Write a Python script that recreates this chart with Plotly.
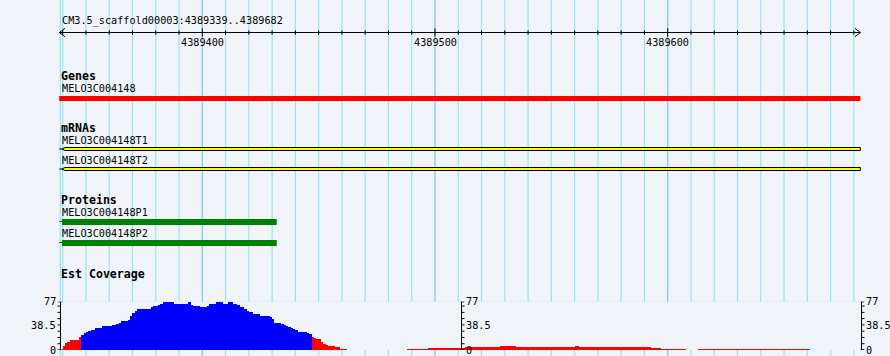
import plotly.graph_objects as go

# ---------------- data ----------------
seq_name = "CM3.5_scaffold00003"
view_start = 4389339
view_end = 4389682
ruler_labels = [4389400, 4389500, 4389600]

gene_names = ["MELO3C004148"]
gene_starts = [4389339]
gene_ends = [4389682]

mrna_names = ["MELO3C004148T1", "MELO3C004148T2"]
mrna_starts = [4389339, 4389339]
mrna_block_starts = [4389340, 4389340]
mrna_ends = [4389682, 4389682]

protein_names = ["MELO3C004148P1", "MELO3C004148P2"]
protein_starts = [4389339, 4389339]
protein_block_starts = [4389340, 4389340]
protein_ends = [4389431, 4389431]

# EST coverage as runs: offset (bp from view_start) where a run begins, and its depth
cov_offsets = [1, 2, 3, 4, 8, 9, 10, 11, 12, 13, 15, 18, 22, 24, 25, 26, 29, 30, 31, 32,
               33, 37, 39, 40, 42, 43, 44, 45, 46, 47, 49, 55, 56, 57, 60, 63, 64, 65, 67, 70,
               71, 72, 74, 76, 77, 79, 80, 81, 83, 86, 87, 90, 91, 92, 95, 96, 97, 98, 99, 100,
               101, 102, 106, 107, 108, 109, 110, 112, 113, 114, 115, 118, 120, 123,
               149, 158, 174, 189, 196, 221, 223, 254, 258, 269, 274, 322]
cov_values = [6, 11, 13, 16, 21, 24, 27, 28, 30, 32, 35, 38, 40, 41, 43, 46, 48, 55, 59, 62,
              65, 66, 68, 70, 71, 73, 77, 76, 77, 76, 73, 76, 71, 70, 68, 70, 73, 74, 76, 74,
              73, 76, 73, 71, 68, 65, 62, 60, 57, 55, 54, 52, 49, 43, 41, 40, 38, 37, 35, 33,
              32, 29, 27, 26, 21, 19, 18, 13, 10, 8, 7, 5, 2, 0,
              2, 3, 4, 6, 4, 6, 4, 3, 2, 0, 2, 0]
cov_max = 77
cov_tick_labels = ["0", "38.5", "77"]
cov_tick_values = [0, 38.5, 77]
cov_grid_values = [0, 10, 20, 30, 40, 50, 60, 70, 77]
cov_pivot = 23

# ---------------- layout constants ----------------
W, H = 890, 356
PX_PER_BP = 2.327
LEFT_PX = 60.35            # pixel of view_start
x_lo = view_start - LEFT_PX / PX_PER_BP
x_hi = x_lo + W / PX_PER_BP

BG = "#f0f4f9"
GRID_MINOR = "#98e4ec"
GRID_MAJOR = "#7cc4e4"
MONO = "DejaVu Sans Mono"

shapes = []
annotations = []

def text(x_px, y, s, bold=False, anchor="left", yref="y", size=None):
    annotations.append(dict(
        x=x_px / W, xref="paper", y=y, yref=yref, text=s, showarrow=False,
        xanchor=anchor, yanchor="middle", borderpad=0,
        font=dict(family=MONO, size=size or (11.6 if bold else 10.2), color="black",
                  weight="bold" if bold else "normal")))

# ---- vertical grid ----
first = ((view_start + 9) // 10) * 10
grid_bp = [view_start] + list(range(first, view_end + 1, 10))
for g in grid_bp:
    major = (g % 100 == 0)
    shapes.append(dict(type="line", xref="x", yref="paper", x0=g, x1=g, y0=0, y1=1,
                       line=dict(color=GRID_MAJOR if major else GRID_MINOR, width=1.2),
                       layer="below"))

# ---- ruler ----
RY = 32.5
shapes.append(dict(type="line", xref="x", yref="y", x0=view_start - 0.4, x1=view_end + 0.8,
                   y0=RY, y1=RY, line=dict(color="black", width=1)))
ah = 5.5 / PX_PER_BP
for tip, d in [(view_start - 0.4, 1), (view_end + 0.8, -1)]:
    shapes.append(dict(type="path", xref="x", yref="y",
                       path=f"M {tip + d*ah},{RY-4.2} L {tip},{RY} L {tip + d*ah},{RY+4.2}",
                       line=dict(color="black", width=1)))
for g in range(first, view_end + 1, 10):
    major = (g % 100 == 0)
    h = 4.2 if major else 2.2
    shapes.append(dict(type="line", xref="x", yref="y", x0=g, x1=g, y0=RY - h, y1=RY + h,
                       line=dict(color="black", width=1)))
text(LEFT_PX + 0.5, 21.3, f"{seq_name}:{view_start}..{view_end}")
for r in ruler_labels:
    annotations.append(dict(x=r, xref="x", y=42.2, yref="y", text=str(r), showarrow=False,
                            xanchor="center", yanchor="middle", borderpad=0,
                            font=dict(family=MONO, size=10.2, color="black")))

# ---- Genes ----
text(59.5, 76, "Genes", bold=True)
gene_rows = [(88.2, 96, 101)]
for name, s, e, (ly, y0, y1) in zip(gene_names, gene_starts, gene_ends, gene_rows):
    text(LEFT_PX + 0.5, ly, name)
    shapes.append(dict(type="rect", xref="x", yref="y", x0=s - 0.5, x1=e + 0.8, y0=y0, y1=y1,
                       fillcolor="#ff0000", line=dict(width=0)))

# ---- mRNAs ----
text(59.5, 128.3, "mRNAs", bold=True)
mrna_rows = [(140.2, 147.5, 150.5), (160.2, 167.5, 170.5)]
tipw = 3 / PX_PER_BP
for name, s, bs, e, (ly, y0, y1) in zip(mrna_names, mrna_starts, mrna_block_starts, mrna_ends, mrna_rows):
    text(LEFT_PX + 0.5, ly, name)
    ym = (y0 + y1) / 2
    shapes.append(dict(type="line", xref="x", yref="y", x0=s - 0.5, x1=bs, y0=ym, y1=ym,
                       line=dict(color="black", width=1)))
    xt = bs - 0.3
    shapes.append(dict(type="path", xref="x", yref="y",
                       path=(f"M {xt},{ym} L {xt + tipw},{y0} L {e + 0.8},{y0} "
                             f"L {e + 0.8},{y1} L {xt + tipw},{y1} Z"),
                       fillcolor="#ffff00", line=dict(color="black", width=1)))

# ---- Proteins ----
text(59.5, 199.7, "Proteins", bold=True)
prot_rows = [(212.3, 219, 225), (233, 240, 246)]
for name, s, bs, e, (ly, y0, y1) in zip(protein_names, protein_starts, protein_block_starts,
                                         protein_ends, prot_rows):
    text(LEFT_PX + 0.5, ly, name)
    ym = (y0 + y1) / 2 - 0.5
    shapes.append(dict(type="line", xref="x", yref="y", x0=s - 0.5, x1=bs, y0=ym, y1=ym,
                       line=dict(color="#006400", width=1)))
    shapes.append(dict(type="rect", xref="x", yref="y", x0=bs - 0.3, x1=e + 1, y0=y0, y1=y1,
                       fillcolor="#008000", line=dict(width=0)))

# ---- EST coverage ----
text(59.5, 273.7, "Est Coverage", bold=True)
COV_TOP_PX, COV_BOT_PX = 301.7, 350.0
y2_domain = [1 - COV_BOT_PX / H, 1 - COV_TOP_PX / H]

for v in cov_grid_values:
    shapes.append(dict(type="line", xref="paper", yref="y2", x0=60 / W, x1=861 / W, y0=v, y1=v,
                       line=dict(color=GRID_MAJOR if v == 0 else GRID_MINOR, width=1.2),
                       layer="below"))

blue_x, blue_w, blue_y, red_x, red_w, red_y = [], [], [], [], [], []
for i in range(len(cov_offsets) - 1):
    v = cov_values[i]
    if v <= 0:
        continue
    x0 = view_start + cov_offsets[i]
    w = cov_offsets[i + 1] - cov_offsets[i]
    if v > cov_pivot:
        blue_x.append(x0); blue_w.append(w); blue_y.append(v)
    else:
        red_x.append(x0); red_w.append(w); red_y.append(v)

traces = [
    go.Bar(x=blue_x, y=blue_y, width=blue_w, offset=0, marker=dict(color="#0000ff", line=dict(width=0)),
           xaxis="x", yaxis="y2", hoverinfo="skip", showlegend=False),
    go.Bar(x=red_x, y=red_y, width=red_w, offset=0, marker=dict(color="#ff0000", line=dict(width=0)),
           xaxis="x", yaxis="y2", hoverinfo="skip", showlegend=False),
]

# three y-axes (left, middle, right)
for ax_px, side in [(60.5, -1), (461.5, 1), (861.5, 1)]:
    shapes.append(dict(type="line", xref="paper", yref="y2", x0=ax_px / W, x1=ax_px / W,
                       y0=0, y1=cov_max, line=dict(color="black", width=1)))
    for v in cov_grid_values:
        shapes.append(dict(type="line", xref="paper", yref="y2", x0=ax_px / W,
                           x1=(ax_px + side * 3) / W, y0=v, y1=v,
                           line=dict(color="black", width=1)))
    for v in (0, cov_max):
        shapes.append(dict(type="line", xref="paper", yref="y2", x0=(ax_px - 1) / W,
                           x1=(ax_px + 2.5) / W, y0=v, y1=v, line=dict(color="black", width=1)))
    for lab, val in zip(cov_tick_labels, cov_tick_values):
        if side < 0:
            text(ax_px - 3.8, val, lab, anchor="right", yref="y2")
        else:
            text(ax_px + 3.5, val, lab, anchor="left", yref="y2")

fig = go.Figure(traces)
fig.update_layout(
    width=W, height=H, margin=dict(l=0, r=0, t=0, b=0),
    paper_bgcolor=BG, plot_bgcolor=BG,
    barmode="overlay", bargap=0,
    xaxis=dict(range=[x_lo, x_hi], visible=False, fixedrange=True, domain=[0, 1]),
    yaxis=dict(range=[H, 0], visible=False, fixedrange=True, domain=[0, 1]),
    yaxis2=dict(range=[0, cov_max], visible=False, fixedrange=True, domain=y2_domain, anchor="x"),
    shapes=shapes, annotations=annotations,
)
fig.write_html("out.html", config={"displayModeBar": False, "staticPlot": True},
               post_script="document.body.style.margin='0';document.body.style.overflow='hidden';")
